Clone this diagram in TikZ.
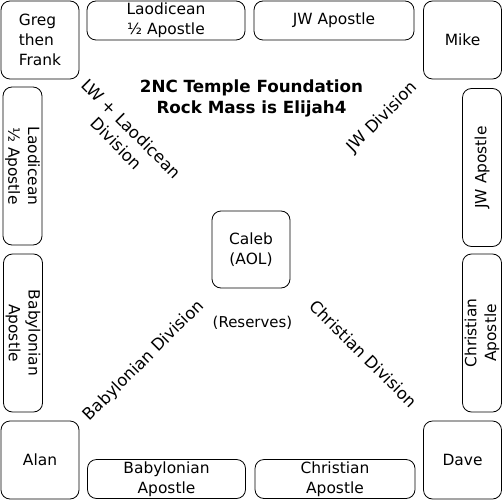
\documentclass[tikz,border=0pt]{standalone}
\usepackage{fontspec}
\setmainfont{DejaVu Sans}

\begin{document}
\begin{tikzpicture}[x=1bp, y=-1bp, line width=0.8pt,
  box/.style={draw, rounded corners=9bp, align=center, inner sep=0pt},
  corner/.style={box, minimum width=78bp, minimum height=78bp},
  wide/.style={box, minimum width=158bp, minimum height=39bp},
  division/.style={align=center, font=\fontsize{16.5}{21}\selectfont},
  every node/.style={font=\fontsize{15.5}{20}\selectfont}]
  \useasboundingbox (0,0) rectangle (503,500);
  % corners
  \node[corner, align=left] (greg) at (40,40) {Greg\\then\\Frank};
  \node[corner] (mike) at (462.5,40) {Mike};
  \node[corner] (alan) at (40,460) {Alan};
  \node[corner] (dave) at (462.5,460) {Dave};
  % apostles
  \node[wide] (laotop) at (166,20.5) {Laodicean\\½ Apostle};
  \node[wide, minimum width=160bp] (jwtop) at (334,20.5) {JW Apostle};
  \node[wide, rotate=-90] (laoleft) at (22.5,166) {Laodicean\\½ Apostle};
  \node[wide, rotate=90] (jwright) at (482,167.5) {JW Apostle};
  \node[wide, rotate=-90] (bableft) at (23,333) {Babylonian\\Apostle};
  \node[wide, rotate=90] (chrright) at (482,333) {Christian\\Apostle};
  \node[wide] (babbot) at (166.5,479) {Babylonian\\Apostle};
  \node[wide, minimum width=160bp] (chrbot) at (335,479) {Christian\\Apostle};
  % centre
  \node[corner, minimum height=77bp] (caleb) at (251,249.5) {Caleb\\(AOL)};
  \node[font=\fontsize{15}{20}\selectfont] (reserves) at (252.5,323) {(Reserves)};
  \node[align=center, font=\fontsize{16.8}{20.5}\selectfont\bfseries] (title) at (251.5,98.5)
    {2NC Temple Foundation\\Rock Mass is Elijah4};
  % divisions
  \node[division, rotate=-45] (lwdiv) at (124,136) {LW + Laodicean\\Division};
  \node[division, rotate=45] (jwdiv) at (382.5,117.5) {JW Division};
  \node[division, rotate=45] (babdiv) at (144,361) {Babylonian Division};
  \node[division, rotate=-45] (chrdiv) at (363.5,353.5) {Christian Division};
\end{tikzpicture}
\end{document}
